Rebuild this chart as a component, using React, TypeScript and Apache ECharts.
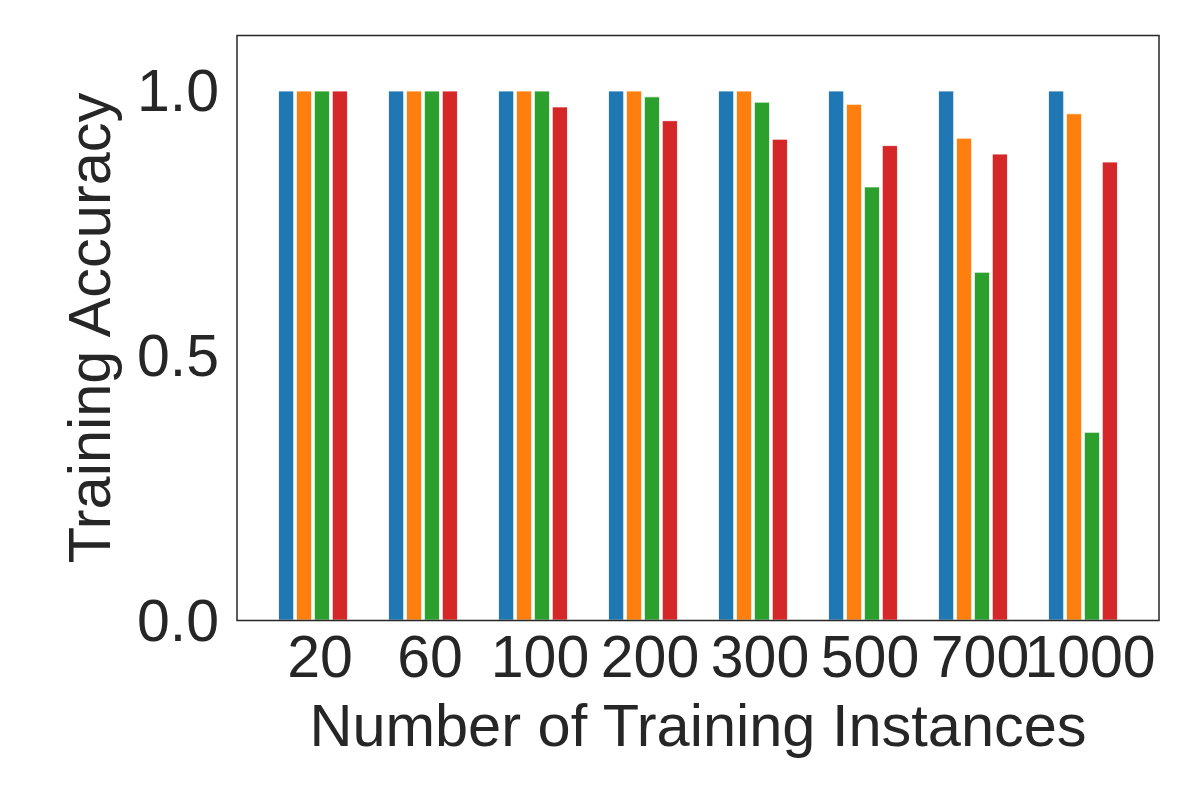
import React, { useEffect, useRef } from "react";
import * as echarts from "echarts";

const categories = ["20", "60", "100", "200", "300", "500", "700", "1000"];
const seriesBlue = [1.0, 1.0, 1.0, 1.0, 1.0, 1.0, 1.0, 1.0];
const seriesOrange = [1.0, 1.0, 1.0, 1.0, 1.0, 0.975, 0.911, 0.957];
const seriesGreen = [1.0, 1.0, 1.0, 0.989, 0.979, 0.819, 0.658, 0.356];
const seriesRed = [1.0, 1.0, 0.97, 0.944, 0.909, 0.897, 0.881, 0.866];
const yTicks = [0, 0.5, 1.0];

const colors = ["#1f77b4", "#ff7f0e", "#2ca02c", "#d62728"];
const FONT = "Liberation Sans, Arial, sans-serif";
const TEXT = "#262626";

export default function App() {
  const ref = useRef<HTMLDivElement>(null);
  useEffect(() => {
    if (!ref.current) return;
    const chart = echarts.init(ref.current, null, { renderer: "svg" });
    const mk = (data: number[], i: number) => ({
      type: "bar",
      data,
      barWidth: 16,
      barGap: "12%",
      itemStyle: { color: colors[i], borderColor: "#ffffff", borderWidth: 0.8 },
    });
    chart.setOption({
      animation: false,
      backgroundColor: "#ffffff",
      textStyle: { fontFamily: FONT },
      grid: { left: 250, top: 27.5, width: 880, height: 585, containLabel: false },
      xAxis: {
        type: "category",
        data: categories,
        axisLine: { show: false },
        axisTick: { show: false },
        axisLabel: {
          fontSize: 59,
          color: TEXT,
          fontFamily: FONT,
          margin: 7,
          padding: [0, 0, 0, 14],
          interval: 0,
        },
        name: "Number of Training Instances",
        nameLocation: "middle",
        nameGap: 75,
        nameTextStyle: { fontSize: 59.5, color: TEXT, fontFamily: FONT },
      },
      yAxis: {
        type: "value",
        min: 0,
        max: 1.104,
        interval: 0.5,
        splitLine: { show: false },
        axisLine: { show: false },
        axisTick: { show: false },
        axisLabel: {
          fontSize: 59,
          color: TEXT,
          fontFamily: FONT,
          margin: 39,
          formatter: (v: number) =>
            yTicks.some((t) => Math.abs(t - v) < 1e-6) ? v.toFixed(1) : "",
        },
        name: "Training Accuracy",
        nameLocation: "middle",
        nameGap: 139,
        nameRotate: 90,
        nameTextStyle: { fontSize: 59.5, color: TEXT, fontFamily: FONT },
      },
      graphic: [
        {
          type: "rect",
          shape: { x: 229, y: 27.5, width: 922, height: 585 },
          style: { fill: "none", stroke: "#262626", lineWidth: 1.5 },
          silent: true,
          z: 100,
        },
      ],
      series: [
        mk(seriesBlue, 0),
        mk(seriesOrange, 1),
        mk(seriesGreen, 2),
        mk(seriesRed, 3),
      ],
    });
    return () => chart.dispose();
  }, []);
  return <div ref={ref} style={{ width: 1180, height: 782 }} />;
}
